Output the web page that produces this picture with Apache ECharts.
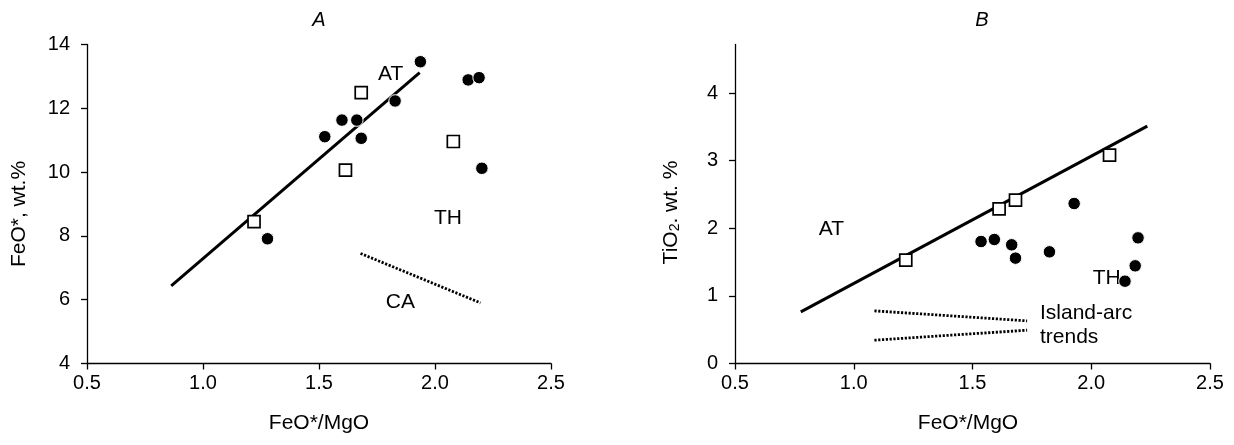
<!DOCTYPE html>
<html>
<head>
<meta charset="utf-8">
<script src="https://cdn.jsdelivr.net/npm/echarts@6/dist/echarts.min.js"></script>
<style>
html,body{margin:0;padding:0;background:#fff;}
#chart{width:1234px;height:445px;}
</style>
</head>
<body>
<div id="chart"></div>
<script>
// ---------- Panel A data (x = FeO*/MgO, y = FeO*, wt.%) ----------
const circlesA = [[1.937,13.46],[2.143,12.89],[2.190,12.96],[1.828,12.23],[1.599,11.63],[1.663,11.63],[1.525,11.11],[1.682,11.06],[2.202,10.12],[1.278,7.91]];
const squaresA = [[1.682,12.49],[1.614,10.06],[2.079,10.96],[1.220,8.45]];
const trendA = [[0.863,6.43],[1.934,13.12]];
const caTrendA = [[1.679,7.45],[2.196,5.90]];
const labelsA = [[1.809,13.08,'AT'],[2.056,8.55,'TH'],[1.851,5.93,'CA']];
const xTicksA = [0.5,1.0,1.5,2.0,2.5];
const yTicksA = [4,6,8,10,12,14];

// ---------- Panel B data (x = FeO*/MgO, y = TiO2 wt.%) ----------
const squaresB = [[1.219,1.529],[1.612,2.289],[1.681,2.417],[2.077,3.083]];
const circlesB = [[1.536,1.805],[1.592,1.835],[1.665,1.756],[1.681,1.559],[1.824,1.652],[1.928,2.367],[2.197,1.859],[2.185,1.445],[2.142,1.218]];
const trendB = [[0.777,0.764],[2.236,3.512]];
const arcUpperB = [[1.087,0.779],[1.730,0.631]];
const arcLowerB = [[1.087,0.345],[1.730,0.493]];
const labelsB = [[0.906,1.98,'AT'],[2.065,1.26,'TH']];
const labelsBLeft = [[1.784,0.74,'Island-arc'],[1.784,0.39,'trends']];
const xTicksB = [0.5,1.0,1.5,2.0,2.5];
const yTicksB = [0,1,2,3,4];
const yMaxB = 4.72;

const titles = ['A','B'];
const xNames = ['FeO*/MgO','FeO*/MgO'];
const yNameA = 'FeO*, wt.%';

const FONT = 'Liberation Sans, Arial, Helvetica, sans-serif';
const FS = 20;   // tick labels
const FN = 21;   // names & annotations

function xAxisCfg(gi, ticks){
  return {
    type:'value', gridIndex:gi, min:ticks[0], max:ticks[ticks.length-1], interval:0.5,
    axisLine:{show:true,lineStyle:{color:'#000',width:1.3}},
    axisTick:{show:true,inside:false,length:6,lineStyle:{color:'#000',width:1.3}},
    axisLabel:{fontFamily:FONT,fontSize:FS,color:'#000',margin:10,formatter:v=>v.toFixed(1),showMinLabel:true,showMaxLabel:true},
    splitLine:{show:false}
  };
}

const chart = echarts.init(document.getElementById('chart'), null, {renderer:'canvas'});

const lineStyleSolid = {color:'#000',width:3};
const lineStyleDot = {color:'#000',width:2.8,type:[2.2,1.6]};

function labelSeries(xi, yi, data, align){
  return {
    type:'scatter', xAxisIndex:xi, yAxisIndex:yi, data:data, symbolSize:0, silent:true,
    itemStyle:{opacity:1},
    label:{show:true, position:'inside', formatter:p=>p.value[2], fontFamily:FONT, fontSize:FN, color:'#000', opacity:1,
      align:align||'center', verticalAlign:'middle'}
  };
}
function textG(x, y, text, extra){
  return Object.assign({type:'text', x:x, y:y, z:10,
    style:Object.assign({text:text, fontFamily:FONT, fontSize:FN, fill:'#000', align:'center', verticalAlign:'middle'}, extra||{})});
}

const option = {
  animation:false,
  backgroundColor:'#fff',
  textStyle:{fontFamily:FONT},
  grid:[
    {left:87, top:44.5, width:464, height:319},
    {left:735, top:44.5, width:475, height:319}
  ],
  graphic:[
    textG(319, 20, titles[0], {fontStyle:'italic', fontSize:FS}),
    textG(982, 20, titles[1], {fontStyle:'italic', fontSize:FS}),
    textG(319, 423, xNames[0]),
    textG(968, 423, xNames[1]),
    Object.assign(textG(19.5, 214, yNameA), {rotation:Math.PI/2}),
    Object.assign(textG(669, 212.5, '{n|TiO}{s|2}{n|. wt. %}', {
      rich:{n:{fontFamily:FONT,fontSize:FN,fill:'#000',verticalAlign:'bottom',lineHeight:26},
            s:{fontFamily:FONT,fontSize:14,fill:'#000',verticalAlign:'bottom',lineHeight:17}}
    }), {rotation:Math.PI/2})
  ],
  xAxis:[ xAxisCfg(0, xTicksA), xAxisCfg(1, xTicksB) ],
  yAxis:[
    {
      type:'value', gridIndex:0, min:yTicksA[0], max:yTicksA[yTicksA.length-1], interval:2,
      axisLine:{show:true,lineStyle:{color:'#000',width:1.3}},
      axisTick:{show:true,length:6,lineStyle:{color:'#000',width:1.3}},
      axisLabel:{fontFamily:FONT,fontSize:FS,color:'#000',margin:17},
      splitLine:{show:false}
    },
    {
      type:'value', gridIndex:1, min:0, max:yMaxB,
      axisLine:{show:true,lineStyle:{color:'#000',width:1.3}},
      axisTick:{show:true,length:6,lineStyle:{color:'#000',width:1.3},customValues:yTicksB},
      axisLabel:{fontFamily:FONT,fontSize:FS,color:'#000',margin:17,customValues:yTicksB},
      splitLine:{show:false}
    }
  ],
  series:[
    // Panel A
    {type:'line', xAxisIndex:0, yAxisIndex:0, data:trendA, symbol:'none', lineStyle:lineStyleSolid, z:2},
    {type:'line', xAxisIndex:0, yAxisIndex:0, data:caTrendA, symbol:'none', lineStyle:lineStyleDot, z:2},
    {type:'scatter', xAxisIndex:0, yAxisIndex:0, data:circlesA, symbol:'circle', symbolSize:12.5,
      itemStyle:{color:'#000', borderColor:'#fff', borderWidth:1, opacity:1}, z:3},
    {type:'scatter', xAxisIndex:0, yAxisIndex:0, data:squaresA, symbol:'rect', symbolSize:12,
      itemStyle:{color:'#fff', borderColor:'#000', borderWidth:1.7, opacity:1}, z:3},
    labelSeries(0,0,labelsA),
    // Panel B
    {type:'line', xAxisIndex:1, yAxisIndex:1, data:trendB, symbol:'none', lineStyle:lineStyleSolid, z:2},
    {type:'line', xAxisIndex:1, yAxisIndex:1, data:arcUpperB, symbol:'none', lineStyle:lineStyleDot, z:2},
    {type:'line', xAxisIndex:1, yAxisIndex:1, data:arcLowerB, symbol:'none', lineStyle:lineStyleDot, z:2},
    {type:'scatter', xAxisIndex:1, yAxisIndex:1, data:circlesB, symbol:'circle', symbolSize:12.5,
      itemStyle:{color:'#000', borderColor:'#fff', borderWidth:1, opacity:1}, z:3},
    {type:'scatter', xAxisIndex:1, yAxisIndex:1, data:squaresB, symbol:'rect', symbolSize:12,
      itemStyle:{color:'#fff', borderColor:'#000', borderWidth:1.7, opacity:1}, z:3},
    labelSeries(1,1,labelsB),
    labelSeries(1,1,labelsBLeft,'left')
  ]
};
chart.setOption(option);
</script>
</body>
</html>
